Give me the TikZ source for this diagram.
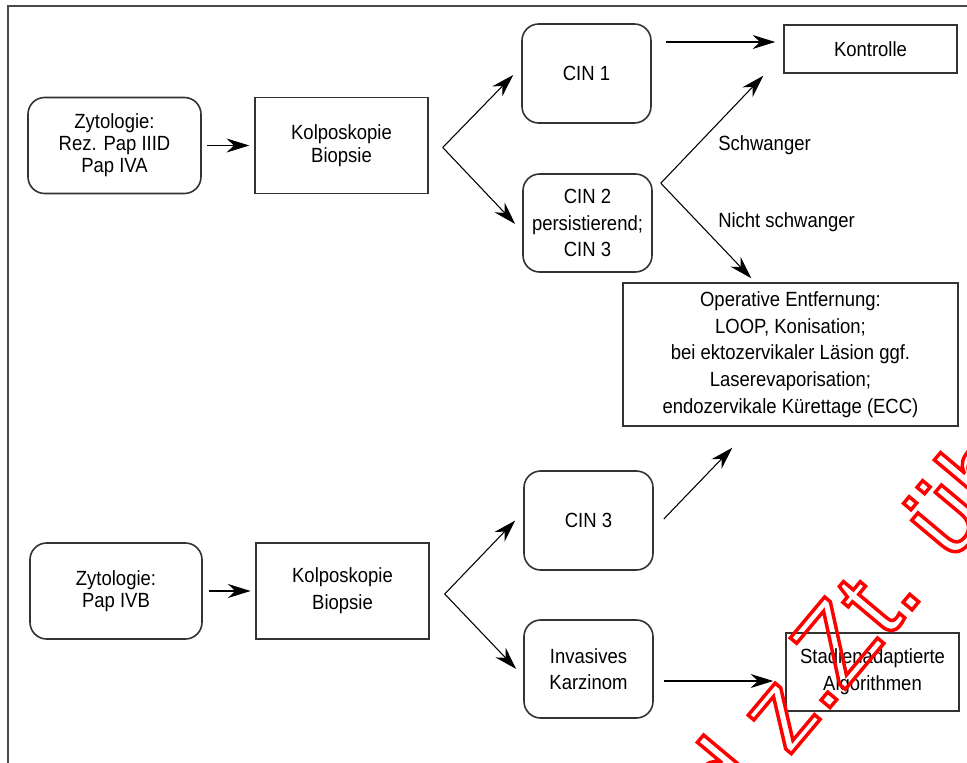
\documentclass[tikz,border=0pt]{standalone}
\usepackage{fontspec}
\setmainfont{Liberation Sans}[FakeStretch=0.9]
\newfontfamily\wmfont{Liberation Sans}
\usetikzlibrary{arrows.meta,calc}
\definecolor{boxgray}{HTML}{333333}
\definecolor{framegray}{HTML}{4A4A4A}
\definecolor{wmred}{RGB}{255,0,0}
% stroked (hollow) glyphs for the stamp text
\newcommand\hollowtext[1]{\special{pdf:literal direct 1 Tr 2.6 w}#1\special{pdf:literal direct 0 Tr}}
\begin{document}
\begin{tikzpicture}[x=0.75pt,y=-0.75pt,
  every node/.style={font=\fontsize{15.4pt}{18pt}\selectfont, align=center, inner sep=0pt},
  sized/.style 2 args={minimum width=#1*0.75pt, minimum height=#2*0.75pt},
  rbox/.style={draw=boxgray, line width=1.2pt, rounded corners=12.5pt},
  sbox/.style={draw=boxgray, line width=1.1pt},
  tight/.style={font=\fontsize{15.4pt}{16.5pt}\selectfont},
  mid/.style={font=\fontsize{15.4pt}{17.5pt}\selectfont},
  wide/.style={font=\fontsize{15.4pt}{20pt}\selectfont},
  arr/.style={-{Stealth[length=17pt,width=10.5pt,inset=5.5pt]}, line width=0.8pt},
]
\useasboundingbox (0,0) rectangle (967,763);

% outer frame (top and left edges)
\draw[framegray, line width=1.5pt] (967,6.5) -- (8,6.5) -- (8,763);

% upper pathway
\node[rbox, tight, sized={173}{96}] (zyt1) at (114.5,145.5) {Zytologie:\\Rez. Pap IIID\\Pap IVA};
\node[sbox, mid, sized={173}{96}] (kb1) at (341.5,145.5) {Kolposkopie\\Biopsie};
\node[rbox, sized={129}{99}] (cin1) at (586.5,73.5) {CIN 1};
\node[rbox, wide, sized={129}{98}] (cin2) at (587.5,223) {CIN 2\\persistierend;\\CIN 3};
\node[sbox, sized={173}{48}] (kon) at (870.5,49) {Kontrolle};
\node[sbox, wide, sized={335}{143}] (op) at (790.5,354.5)
  {Operative Entfernung:\\LOOP, Konisation;\\bei ektozervikaler Läsion ggf.\\Laserevaporisation;\\endozervikale Kürettage (ECC)};

% lower pathway
\node[rbox, tight, sized={172}{96}] (zyt2) at (116,591) {Zytologie:\\Pap IVB};
\node[sbox, wide, sized={173}{96}] (kb2) at (342.5,591) {Kolposkopie\\Biopsie};
\node[rbox, sized={129}{99}] (cin3) at (588.5,520.5) {CIN 3};
\node[rbox, wide, sized={129}{98}] (inv) at (588.5,669) {Invasives\\Karzinom};
\node[sbox, wide, sized={173}{78}] (stad) at (872.5,672) {Stadienadaptierte\\Algorithmen};

% branch labels
\node[anchor=west] (lab1) at (718,145) {Schwanger};
\node[anchor=west] (lab2) at (718,222) {Nicht schwanger};

% branching points and free arrow ends
\coordinate (f1) at ($(kb1.east)+(14,2)$);
\coordinate (t1) at ($(cin1.west)+(-8,1.5)$);
\coordinate (t2) at ($(cin2.west)+(-7,1)$);
\coordinate (f2) at ($(cin2.north east)+(8,10)$);
\coordinate (t3) at ($(kon.south west)+(-20,2)$);
\coordinate (t4) at ($(op.north west)+(129,-4)$);
\coordinate (s5) at ($(cin3.east)+(10,-1.5)$);
\coordinate (t5) at ($(op.south west)+(110,21)$);
\coordinate (f3) at ($(kb2.east)+(15,3)$);
\coordinate (t6) at ($(cin3.west)+(-8,0)$);
\coordinate (t7) at ($(inv.west)+(-7,0)$);
\coordinate (s1) at ($(cin1.east)+(14,-31.5)$);
\coordinate (e1) at ($(kon.west)+(-8,-7)$);
\coordinate (s2) at ($(inv.east)+(10,12)$);
\coordinate (e2) at ($(stad.west)+(-12,9)$);

% connectors
\draw[arr, shorten <=3.75pt, shorten >=3.75pt] (zyt1) -- (kb1);
\draw[arr] (f1) -- (t1);
\draw[arr] (f1) -- (t2);
\draw[arr] (s1) -- (e1);
\draw[arr] (f2) -- (t3);
\draw[arr] (f2) -- (t4);

\draw[arr, shorten <=4.5pt, shorten >=3.5pt] (zyt2) -- (kb2);
\draw[arr] (f3) -- (t6);
\draw[arr] (f3) -- (t7);
\draw[arr] (s5) -- (t5);
\draw[arr] (s2) -- (e2);

% diagonal stamp
\begin{scope}
\clip (0,0) rectangle (967,763);
\node[rotate=50, anchor=base west, text=wmred, font=\wmfont\fontsize{82pt}{82pt}\selectfont] (stamp) at (640,934)
  {\hollowtext{wird z.Zt. überarbeitet}};
\end{scope}
\end{tikzpicture}
\end{document}
